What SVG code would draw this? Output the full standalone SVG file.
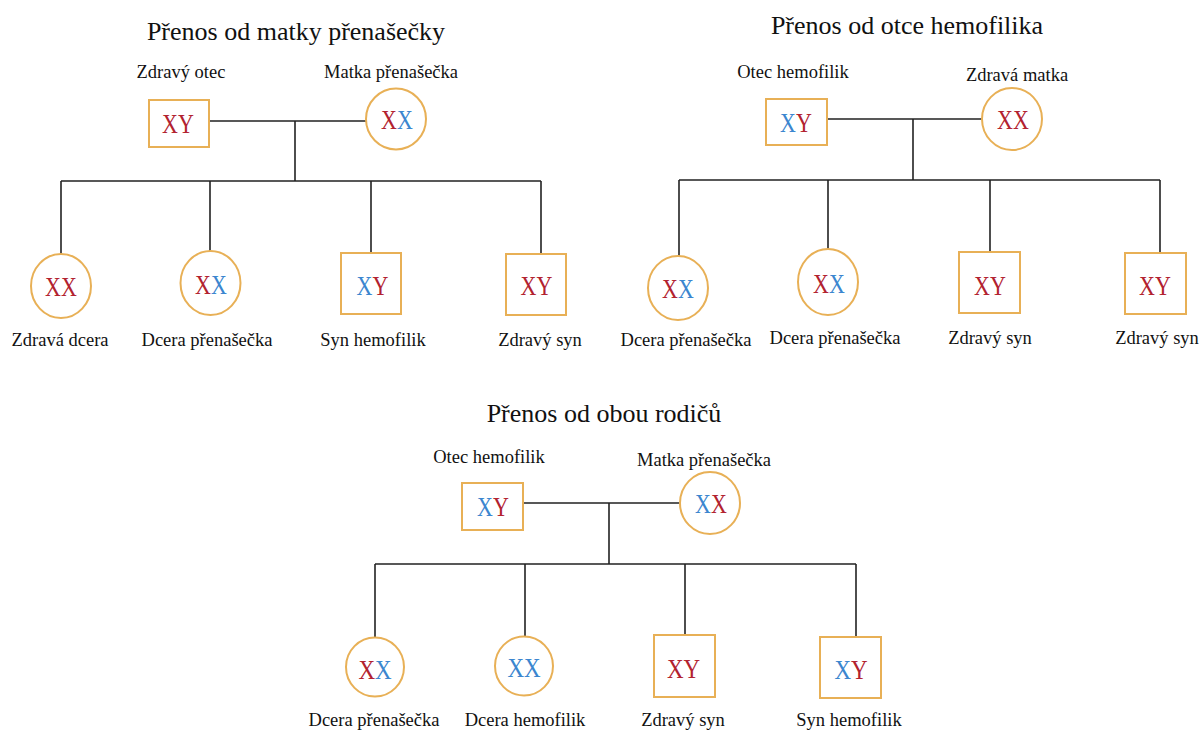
<svg xmlns="http://www.w3.org/2000/svg" width="1204" height="733" viewBox="0 0 1204 733">
<style>
.title{font-family:"Liberation Serif","Times New Roman",serif;font-size:26px;fill:#111;text-anchor:middle}
.lbl{font-family:"Liberation Serif","Times New Roman",serif;font-size:18.5px;fill:#111;text-anchor:middle}
.g{font-family:"Liberation Serif","Times New Roman",serif;font-size:22px;text-anchor:middle}
.g2{font-family:"Liberation Serif","Times New Roman",serif;font-size:23px;text-anchor:middle}
.r{fill:#B2222F}
.b{fill:#3B86CF}
.node{fill:#fff;stroke:#E8B056;stroke-width:2}
.ln{fill:none;stroke:#222;stroke-width:1.6}
</style>
<rect width="1204" height="733" fill="#fff"/>

<!-- Connectors -->
<g id="connectors" class="ln">
  <!-- diagram 1 -->
  <path d="M209 121 H366 M295 121 V181 M61 181 H541 M61 181 V254 M210 181 V251 M371 181 V253 M541 181 V254"/>
  <!-- diagram 2 -->
  <path d="M827 119 H982 M913 119 V180 M679 180 H1160 M679 180 V256 M828 180 V249 M990 180 V252 M1160 180 V253"/>
  <!-- diagram 3 -->
  <path d="M523 503 H680 M609 503 V564 M375 564 H856 M375 564 V638 M525 564 V637 M685 564 V635 M856 564 V637"/>
</g>

<!-- Titles -->
<text class="title" x="296" y="40">Přenos od matky přenašečky</text>
<text class="title" x="907" y="34">Přenos od otce hemofilika</text>
<text class="title" x="604" y="422">Přenos od obou rodičů</text>

<!-- Diagram 1 -->
<g id="d1-father">
  <rect class="node" x="149" y="100" width="60" height="47"/>
  <text class="g" transform="translate(178 133) scale(1 1.22)"><tspan class="r">X</tspan><tspan class="r">Y</tspan></text>
  <text class="lbl" x="181" y="78">Zdravý otec</text>
</g>
<g id="d1-mother">
  <ellipse class="node" cx="396" cy="119" rx="30" ry="30.5"/>
  <text class="g" transform="translate(397 129) scale(1 1.22)"><tspan class="r">X</tspan><tspan class="b">X</tspan></text>
  <text class="lbl" x="391" y="78">Matka přenašečka</text>
</g>
<g id="d1-c1">
  <ellipse class="node" cx="61" cy="286" rx="30" ry="32"/>
  <text class="g" transform="translate(61 296) scale(1 1.22)"><tspan class="r">X</tspan><tspan class="r">X</tspan></text>
  <text class="lbl" x="60" y="346">Zdravá dcera</text>
</g>
<g id="d1-c2">
  <ellipse class="node" cx="210.5" cy="283" rx="30" ry="32"/>
  <text class="g" transform="translate(211 294) scale(1 1.22)"><tspan class="r">X</tspan><tspan class="b">X</tspan></text>
  <text class="lbl" x="207" y="346">Dcera přenašečka</text>
</g>
<g id="d1-c3">
  <rect class="node" x="341" y="253" width="60" height="61"/>
  <text class="g" transform="translate(372.5 295) scale(1 1.22)"><tspan class="b">X</tspan><tspan class="r">Y</tspan></text>
  <text class="lbl" x="373" y="346">Syn hemofilik</text>
</g>
<g id="d1-c4">
  <rect class="node" x="506" y="254" width="60" height="61"/>
  <text class="g" transform="translate(536.5 295) scale(1 1.22)"><tspan class="r">X</tspan><tspan class="r">Y</tspan></text>
  <text class="lbl" x="540" y="346">Zdravý syn</text>
</g>

<!-- Diagram 2 -->
<g id="d2-father">
  <rect class="node" x="766" y="99" width="61" height="46"/>
  <text class="g" transform="translate(796 132) scale(1 1.22)"><tspan class="b">X</tspan><tspan class="r">Y</tspan></text>
  <text class="lbl" x="793" y="78">Otec hemofilik</text>
</g>
<g id="d2-mother">
  <ellipse class="node" cx="1012" cy="119" rx="30" ry="31"/>
  <text class="g" transform="translate(1013 129) scale(1 1.22)"><tspan class="r">X</tspan><tspan class="r">X</tspan></text>
  <text class="lbl" x="1017" y="81">Zdravá matka</text>
</g>
<g id="d2-c1">
  <ellipse class="node" cx="678" cy="288" rx="30" ry="32"/>
  <text class="g" transform="translate(678 298) scale(1 1.22)"><tspan class="r">X</tspan><tspan class="b">X</tspan></text>
  <text class="lbl" x="686" y="346">Dcera přenašečka</text>
</g>
<g id="d2-c2">
  <ellipse class="node" cx="828" cy="282" rx="30" ry="33"/>
  <text class="g" transform="translate(829 293) scale(1 1.22)"><tspan class="r">X</tspan><tspan class="b">X</tspan></text>
  <text class="lbl" x="835" y="344">Dcera přenašečka</text>
</g>
<g id="d2-c3">
  <rect class="node" x="959" y="252" width="61" height="61"/>
  <text class="g" transform="translate(990 295) scale(1 1.22)"><tspan class="r">X</tspan><tspan class="r">Y</tspan></text>
  <text class="lbl" x="990" y="344">Zdravý syn</text>
</g>
<g id="d2-c4">
  <rect class="node" x="1125" y="253" width="61" height="61"/>
  <text class="g" transform="translate(1155 295) scale(1 1.22)"><tspan class="r">X</tspan><tspan class="r">Y</tspan></text>
  <text class="lbl" x="1157" y="344">Zdravý syn</text>
</g>

<!-- Diagram 3 -->
<g id="d3-father">
  <rect class="node" x="462" y="483" width="61" height="47"/>
  <text class="g" transform="translate(493 516) scale(1 1.22)"><tspan class="b">X</tspan><tspan class="r">Y</tspan></text>
  <text class="lbl" x="489" y="463">Otec hemofilik</text>
</g>
<g id="d3-mother">
  <ellipse class="node" cx="710" cy="503" rx="30" ry="31"/>
  <text class="g" transform="translate(711 513) scale(1 1.22)"><tspan class="b">X</tspan><tspan class="r">X</tspan></text>
  <text class="lbl" x="704" y="466">Matka přenašečka</text>
</g>
<g id="d3-c1">
  <ellipse class="node" cx="375" cy="667" rx="29" ry="29.5"/>
  <text class="g2" transform="translate(375 679) scale(1 1.22)"><tspan class="r">X</tspan><tspan class="b">X</tspan></text>
  <text class="lbl" x="374" y="726">Dcera přenašečka</text>
</g>
<g id="d3-c2">
  <ellipse class="node" cx="524" cy="666" rx="29" ry="29.5"/>
  <text class="g2" transform="translate(524 677) scale(1 1.22)"><tspan class="b">X</tspan><tspan class="b">X</tspan></text>
  <text class="lbl" x="525" y="726">Dcera hemofilik</text>
</g>
<g id="d3-c3">
  <rect class="node" x="654" y="635" width="61" height="62"/>
  <text class="g2" transform="translate(683.5 678) scale(1 1.22)"><tspan class="r">X</tspan><tspan class="r">Y</tspan></text>
  <text class="lbl" x="683" y="726">Zdravý syn</text>
</g>
<g id="d3-c4">
  <rect class="node" x="820" y="637" width="61" height="61"/>
  <text class="g2" transform="translate(851 679) scale(1 1.22)"><tspan class="b">X</tspan><tspan class="r">Y</tspan></text>
  <text class="lbl" x="849" y="726">Syn hemofilik</text>
</g>
</svg>
